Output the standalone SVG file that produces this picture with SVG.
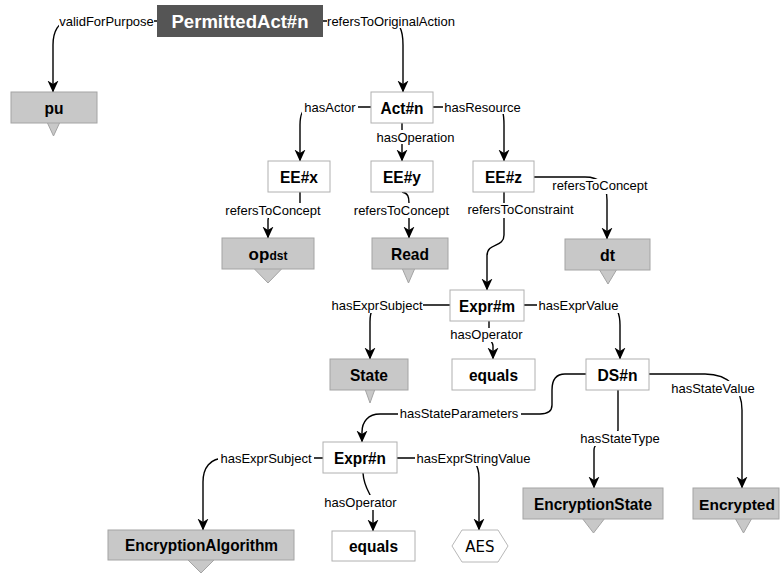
<svg xmlns="http://www.w3.org/2000/svg" width="781" height="575" viewBox="0 0 781 575">
  <defs>
    <marker id="arr" viewBox="0 0 12 12" refX="11.5" refY="6" markerWidth="12" markerHeight="12" markerUnits="userSpaceOnUse" orient="auto">
      <path d="M0,0.5 L12,6 L0,11.5 L3.5,6 z" fill="#000"/>
    </marker>
  </defs>
  <style>
    .edge { fill: none; stroke: #000; stroke-width: 1.4; }
    .arrow { marker-end: url(#arr); }
    .lblbg { fill: #fff; }
    .lbl { font-family: "Liberation Sans", Arial, sans-serif; font-size: 13px; fill: #000; text-anchor: middle; }
    .inst { fill: #fff; stroke: #b0b0b0; stroke-width: 1; }
    .cls { fill: #c8c8c8; stroke: #a4a4a4; stroke-width: 1; }
    .tri { fill: #c8c8c8; stroke: #a4a4a4; stroke-width: 1; }
    .name { font-family: "Liberation Sans", Arial, sans-serif; font-weight: bold; font-size: 17px; fill: #000; text-anchor: middle; }
    .root { fill: #555555; }
    .rootname { font-family: "Liberation Sans", Arial, sans-serif; font-weight: bold; font-size: 19px; fill: #fff; text-anchor: middle; }
    .lit { fill: #fff; stroke: #b8b8b8; stroke-width: 1; }
    .littext { font-family: "DejaVu Sans", sans-serif; font-size: 15px; fill: #000; text-anchor: middle; }
  </style>

  <rect width="781" height="575" fill="#fff"/>

  <!-- connectors -->
  <g id="connectors">
    <path class="edge arrow" d="M157,21 L70,21 C58,21 53,32 53,45 L53,92"/>
    <path class="edge arrow" d="M323,21 L390,21 C400,21 403,32 403,45 L403,92"/>
    <path class="edge arrow" d="M371,107 L310,107 C303,107 300,115 300,125 L300,161"/>
    <path class="edge arrow" d="M433,107 L498,107 C503,107 504,115 504,125 L504,161"/>
    <path class="edge arrow" d="M402,123 L402,161"/>
    <path class="edge arrow" d="M300,192 L300,203 C300,212 268,208 268,220 L268,238"/>
    <path class="edge arrow" d="M402,192 C408,193 409,197 409,203 L409,238"/>
    <path class="edge arrow" d="M504,192 L504,235 C504,248 487,242 487,256 L487,290"/>
    <path class="edge arrow" d="M534,177 L585,177 C600,177 607,185 607,200 L607,239"/>
    <path class="edge arrow" d="M450,305 L380,305 C372,305 370,312 370,322 L370,359"/>
    <path class="edge arrow" d="M489,321 L489,335 C489,340 493,342 493,346 L493,359"/>
    <path class="edge arrow" d="M524,305 L610,305 C617,305 620,315 620,325 L620,359"/>
    <path class="edge arrow" d="M649,374 L705,374 C730,374 742,390 742,410 L742,488"/>
    <path class="edge arrow" d="M586,374 L565,374 C556,374 552,380 552,390 L552,405 C552,411 548,414 540,414 L380,414 C368,414 362,422 362,432 L362,442"/>
    <path class="edge arrow" d="M618,390 L618,430 C618,440 594,438 594,450 L594,488"/>
    <path class="edge arrow" d="M323,458 L225,458 C210,458 203,468 203,482 L203,530"/>
    <path class="edge arrow" d="M363,473 C364,490 373,495 373,505 L373,531"/>
    <path class="edge arrow" d="M397,458 L465,458 C474,458 479,466 479,478 L479,530"/>

    <!-- edge labels -->
    <g id="edge-labels">
      <rect class="lblbg" x="59" y="14" width="95" height="14"/>
      <text class="lbl" x="106.5" y="25.5">validForPurpose</text>
      <rect class="lblbg" x="327" y="14" width="130" height="14"/>
      <text class="lbl" x="391" y="25.5">refersToOriginalAction</text>
      <rect class="lblbg" x="302" y="100" width="56" height="14"/>
      <text class="lbl" x="330" y="112">hasActor</text>
      <rect class="lblbg" x="443" y="100" width="80" height="14"/>
      <text class="lbl" x="482.5" y="112">hasResource</text>
      <rect class="lblbg" x="375" y="130" width="82" height="14"/>
      <text class="lbl" x="415.5" y="142">hasOperation</text>
      <rect class="lblbg" x="225" y="203" width="97" height="15"/>
      <text class="lbl" x="273" y="215">refersToConcept</text>
      <rect class="lblbg" x="353" y="203" width="97" height="15"/>
      <text class="lbl" x="401.5" y="215">refersToConcept</text>
      <rect class="lblbg" x="467" y="203" width="108" height="15"/>
      <text class="lbl" x="520.5" y="214">refersToConstraint</text>
      <rect class="lblbg" x="552" y="179" width="97" height="15"/>
      <text class="lbl" x="600" y="190">refersToConcept</text>
      <rect class="lblbg" x="331" y="298" width="92" height="15"/>
      <text class="lbl" x="377" y="310">hasExprSubject</text>
      <rect class="lblbg" x="450" y="328" width="74" height="14"/>
      <text class="lbl" x="486.5" y="339">hasOperator</text>
      <rect class="lblbg" x="537" y="298" width="84" height="15"/>
      <text class="lbl" x="578.5" y="310">hasExprValue</text>
      <rect class="lblbg" x="671" y="381" width="85" height="15"/>
      <text class="lbl" x="713" y="393">hasStateValue</text>
      <rect class="lblbg" x="398" y="406" width="123" height="15"/>
      <text class="lbl" x="459" y="418">hasStateParameters</text>
      <rect class="lblbg" x="579" y="431" width="83" height="15"/>
      <text class="lbl" x="620" y="443">hasStateType</text>
      <rect class="lblbg" x="218" y="451" width="96" height="15"/>
      <text class="lbl" x="266" y="463">hasExprSubject</text>
      <rect class="lblbg" x="322" y="495" width="78" height="15"/>
      <text class="lbl" x="360.5" y="507">hasOperator</text>
      <rect class="lblbg" x="415" y="451" width="117" height="15"/>
      <text class="lbl" x="473.5" y="463">hasExprStringValue</text>
    </g>
  </g>

  <!-- nodes -->
  <g id="PermittedAct_n">
    <rect class="root" x="157" y="5" width="166" height="32"/>
    <text class="rootname" x="240" y="28" textLength="137" lengthAdjust="spacingAndGlyphs">PermittedAct#n</text>
  </g>
  <g id="pu">
    <polygon class="tri" points="47,122 60,122 53.5,136"/>
    <rect class="cls" x="11" y="92" width="86" height="31"/>
    <text class="name" x="54" y="113.5" textLength="19" lengthAdjust="spacingAndGlyphs">pu</text>
  </g>
  <g id="Act_n">
    <rect class="inst" x="371" y="92" width="62" height="31"/>
    <text class="name" x="402" y="113.5" textLength="43" lengthAdjust="spacingAndGlyphs">Act#n</text>
  </g>
  <g id="EE_x">
    <rect class="inst" x="268" y="161" width="62" height="31"/>
    <text class="name" x="299" y="182.5" textLength="38" lengthAdjust="spacingAndGlyphs">EE#x</text>
  </g>
  <g id="EE_y">
    <rect class="inst" x="371" y="161" width="62" height="31"/>
    <text class="name" x="402" y="182.5" textLength="38" lengthAdjust="spacingAndGlyphs">EE#y</text>
  </g>
  <g id="EE_z">
    <rect class="inst" x="473" y="161" width="61" height="31"/>
    <text class="name" x="503.5" y="182.5" textLength="37" lengthAdjust="spacingAndGlyphs">EE#z</text>
  </g>
  <g id="op_dst">
    <polygon class="tri" points="253.5,268 282.5,268 268,283"/>
    <rect class="cls" x="222" y="238" width="92" height="31"/>
    <text class="name" x="268" y="259.5">op<tspan font-size="12px" dy="0.5">dst</tspan></text>
  </g>
  <g id="Read">
    <polygon class="tri" points="402,268 415,268 408.5,283"/>
    <rect class="cls" x="372" y="238" width="76" height="31"/>
    <text class="name" x="410" y="259.5" textLength="38" lengthAdjust="spacingAndGlyphs">Read</text>
  </g>
  <g id="dt">
    <polygon class="tri" points="599,269 617,269 608,284"/>
    <rect class="cls" x="565" y="239" width="85" height="31"/>
    <text class="name" x="607.5" y="260.5" textLength="15" lengthAdjust="spacingAndGlyphs">dt</text>
  </g>
  <g id="Expr_m">
    <rect class="inst" x="450" y="290" width="74" height="31"/>
    <text class="name" x="487" y="311.5" textLength="56" lengthAdjust="spacingAndGlyphs">Expr#m</text>
  </g>
  <g id="State">
    <polygon class="tri" points="365,389 375,389 370,403"/>
    <rect class="cls" x="330" y="359" width="78" height="31"/>
    <text class="name" x="369" y="380.5" textLength="38" lengthAdjust="spacingAndGlyphs">State</text>
  </g>
  <g id="equals_m">
    <rect class="inst" x="452" y="359" width="83" height="31"/>
    <text class="name" x="493.5" y="380.5" textLength="49" lengthAdjust="spacingAndGlyphs">equals</text>
  </g>
  <g id="DS_n">
    <rect class="inst" x="586" y="359" width="63" height="31"/>
    <text class="name" x="617.5" y="380.5" textLength="40" lengthAdjust="spacingAndGlyphs">DS#n</text>
  </g>
  <g id="Expr_n">
    <rect class="inst" x="323" y="442" width="74" height="31"/>
    <text class="name" x="360" y="463.5" textLength="52" lengthAdjust="spacingAndGlyphs">Expr#n</text>
  </g>
  <g id="EncryptionAlgorithm">
    <polygon class="tri" points="187,559 215,559 201,573"/>
    <rect class="cls" x="108" y="530" width="186" height="30"/>
    <text class="name" x="201.5" y="551" textLength="153" lengthAdjust="spacingAndGlyphs">EncryptionAlgorithm</text>
  </g>
  <g id="equals_n">
    <rect class="inst" x="332" y="531" width="83" height="30"/>
    <text class="name" x="373.5" y="552" textLength="49" lengthAdjust="spacingAndGlyphs">equals</text>
  </g>
  <g id="AES">
    <polygon class="lit" points="452,546 462,530 498,530 508,546 498,562 462,562"/>
    <text class="littext" x="480" y="551.5">AES</text>
  </g>
  <g id="EncryptionState">
    <polygon class="tri" points="582,518 605,518 593.5,533"/>
    <rect class="cls" x="523" y="488" width="140" height="31"/>
    <text class="name" x="593" y="509.5" textLength="118" lengthAdjust="spacingAndGlyphs">EncryptionState</text>
  </g>
  <g id="Encrypted">
    <polygon class="tri" points="735,518 752,518 743.5,533"/>
    <rect class="cls" x="693" y="488" width="86" height="31"/>
    <text class="name" x="737" y="509.5" style="font-size:15.5px">Encrypted</text>
  </g>
</svg>
